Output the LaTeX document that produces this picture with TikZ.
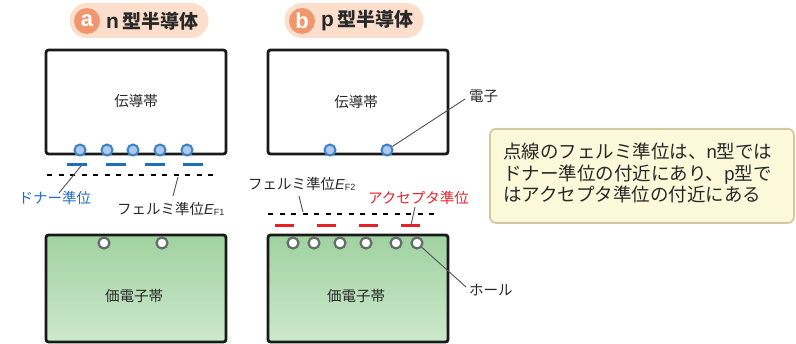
\documentclass[tikz,border=0pt]{standalone}
\usepackage{fontspec}
\setmainfont{Noto Sans CJK JP}
\newfontfamily\lat{Liberation Sans}
\usetikzlibrary{shapes.geometric}
\definecolor{dblue}{RGB}{30,110,190}
\definecolor{eblue}{RGB}{60,130,200}
\definecolor{efill}{RGB}{175,200,235}
\definecolor{ared}{RGB}{232,32,40}
\definecolor{hgray}{RGB}{100,110,105}
\definecolor{gtop}{RGB}{160,210,160}
\definecolor{gbot}{RGB}{205,232,205}
\definecolor{pill}{RGB}{252,222,205}
\definecolor{badge}{RGB}{242,150,110}
\definecolor{notefill}{RGB}{252,249,218}
\definecolor{notedraw}{RGB}{212,200,160}
\definecolor{txt}{RGB}{40,40,40}
\definecolor{lead}{RGB}{80,80,80}
\tikzset{
  band/.style={draw=black!90, line width=2.8pt, rounded corners=2.5pt},
  vband/.style={band, top color=gtop, bottom color=gbot},
  elec/.style={circle, draw=eblue, fill=efill, line width=2pt, minimum size=11pt, inner sep=0pt},
  hole/.style={circle, draw=hgray, fill=white, line width=2.2pt, minimum size=11pt, inner sep=0pt},
  lbl/.style={font=\fontsize{14.5}{16}\selectfont, text=txt, inner sep=0pt},
  leader/.style={draw=lead, line width=0.9pt},
  fermi/.style={line width=2.3pt, dash pattern=on 5pt off 6.5pt},
  donor/.style={draw=dblue, line width=3pt},
  accept/.style={draw=ared, line width=3pt},
  pillbox/.style={fill=pill, rounded corners=17.5pt},
  badgec/.style={circle, fill=badge, minimum size=26pt, inner sep=0pt, text=white, font=\lat\fontsize{22}{22}\selectfont\bfseries},
  titletext/.style={font=\fontsize{19}{20}\selectfont\bfseries, text=txt, inner sep=0pt, anchor=west},
}
\newcommand{\EF}[1]{{\lat\itshape E}\raisebox{-1.5pt}{\lat\fontsize{9}{10}\selectfont F#1}}
\begin{document}
\begin{tikzpicture}[x=1pt,y=-1pt]
\useasboundingbox (0,0) rectangle (796,344);
% titles
\fill[pillbox] (69.5,3) rectangle (208.5,38);
\node[badgec] (ba) at (87,21) {a};
\node[titletext] (ta) at (106,21) {{\lat\fontsize{21}{21}\selectfont n}\hspace{3pt}型半導体};
\fill[pillbox] (284.5,3) rectangle (423.5,38);
\node[badgec] (bb) at (302,21) {b};
\node[titletext] (tb) at (321,21) {{\lat\fontsize{21}{21}\selectfont p}\hspace{3pt}型半導体};

% band boxes
\draw[band] (46,50) rectangle (226,154);
\draw[band] (268,50) rectangle (448,154);
\draw[vband] (46,235) rectangle (226,342);
\draw[vband] (268,235) rectangle (448,342);
\node[lbl] (cba) at (136,101) {伝導帯};
\node[lbl] (cbb) at (356,102) {伝導帯};
\node[lbl] (vba) at (134,296) {価電子帯};
\node[lbl] (vbb) at (356,296) {価電子帯};

% n-type
\foreach \x/\n in {80/1,107/2,133/3,160/4,187/5} \node[elec] (ea\n) at (\x,150) {};
\foreach \x/\n in {67/1,106/2,145/3,183/4} {
  \coordinate (dl\n) at (\x,165);
  \coordinate (dr\n) at (\x+20,165);
  \draw[donor] (dl\n) -- (dr\n);
}
\coordinate (fa1) at (47,175);
\coordinate (fa2) at (216,175);
\draw[fermi] (fa1) -- (fa2);
\node[lbl, text=dblue] (dn) at (55,198) {ドナー準位};
\coordinate (dnp) at (81,166);
\coordinate (dne) at (59,193);
\draw[leader] (dnp) -- (dne);
\node[lbl, anchor=west] (ef1) at (117,209) {フェルミ準位\EF{1}};
\coordinate (fap) at (178,177);
\coordinate (fae) at (173,196);
\draw[leader] (fap) -- (fae);

% p-type
\node[elec] (eb1) at (330,150) {};
\node[elec] (eb2) at (387,150) {};
\node[lbl, anchor=west] (el) at (469,96) {電子};
\coordinate (ele) at (465,99);
\draw[leader] (eb2) -- (ele);
\coordinate (fb1) at (268,214);
\coordinate (fb2) at (438,214);
\draw[fermi] (fb1) -- (fb2);
\foreach \x/\n in {275/1,317/2,359/3,401/4} {
  \coordinate (al\n) at (\x,226);
  \coordinate (ar\n) at (\x+19,226);
  \draw[accept] (al\n) -- (ar\n);
}
\node[lbl, anchor=west] (ef2) at (248,184) {フェルミ準位\EF{2}};
\coordinate (fbp) at (299,196);
\coordinate (fbe) at (303,212);
\draw[leader] (fbp) -- (fbe);
\node[lbl, anchor=west, text=ared] (ac) at (368,198) {アクセプタ準位};
\coordinate (acp) at (415,207);
\coordinate (ace) at (411,225);
\draw[leader] (acp) -- (ace);

% holes
\node[hole] (ha1) at (104,243) {};
\node[hole] (ha2) at (162,243) {};
\foreach \x/\n in {293/1,314/2,340/3,366/4,396/5,417/6} \node[hole] (hb\n) at (\x,243) {};
\node[lbl, anchor=west] (hl) at (469,290) {ホール};
\coordinate (hle) at (466,287);
\draw[leader] (hb6) -- (hle);

% note
\node[draw=notedraw, fill=notefill, line width=1.8pt, rounded corners=6pt, minimum width=304pt, minimum height=94pt, anchor=north west] (note) at (489,128) {};
\node[anchor=north west, text=txt, align=left, inner sep=0pt, font=\fontsize{18.5}{21.5}\selectfont] (nt) at (503,143) {点線のフェルミ準位は、{\lat n}型では\\ドナー準位の付近にあり、{\lat p}型で\\はアクセプタ準位の付近にある};
\end{tikzpicture}
\end{document}
